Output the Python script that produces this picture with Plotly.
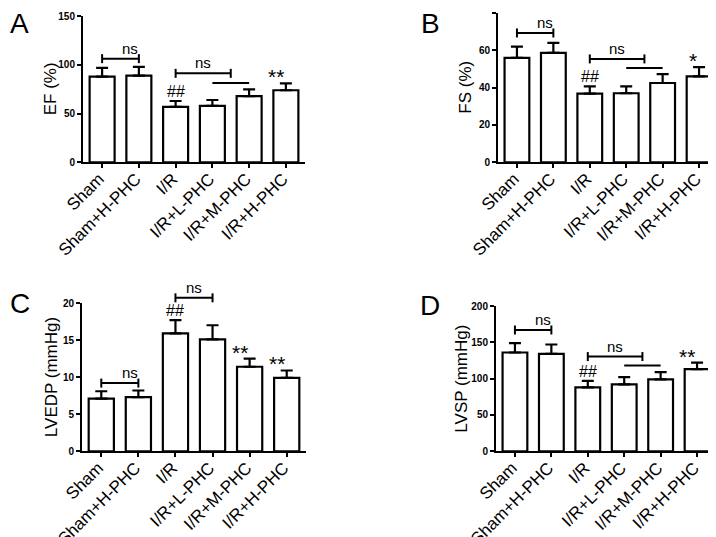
import plotly.graph_objects as go

categories = ["Sham", "Sham+H-PHC", "I/R", "I/R+L-PHC", "I/R+M-PHC", "I/R+H-PHC"]

ef_mean = [88, 89, 57, 58, 68, 74]
ef_err = [9, 9, 6, 6, 7, 7]
fs_mean = [56, 58.6, 36.8, 37, 42.5, 46]
fs_err = [6, 5.4, 3.9, 3.7, 4.8, 5]
lvedp_mean = [7.1, 7.3, 15.9, 15.1, 11.4, 9.9]
lvedp_err = [1.0, 0.9, 1.8, 1.9, 1.1, 1.0]
lvsp_mean = [136, 134, 88, 92, 99, 113]
lvsp_err = [13, 13, 9, 10, 10, 9]

ef_ticks = [0, 50, 100, 150]
fs_ticks = [0, 20, 40, 60, 80]
lvedp_ticks = [0, 5, 10, 15, 20]
lvsp_ticks = [0, 50, 100, 150, 200]

# significance brackets: (from group, to group, level, end ticks, label)
ef_brackets = [(0, 1, 106.5, True, "ns"), (2, 3.5, 91.4, True, "ns"), (3, 4, 81.5, False, "")]
fs_brackets = [(0, 1, 69.3, True, "ns"), (2, 3.5, 55.4, True, "ns"), (3, 4, 50.5, False, "")]
lvedp_brackets = [(0, 1, 9.2, True, "ns"), (2, 3, 20.7, True, "ns")]
lvsp_brackets = [(0, 1, 167, True, "ns"), (2, 3.5, 130.4, True, "ns"), (3, 4, 118, False, "")]

ef_marks = {2: "##", 5: "**"}
fs_marks = {2: "##", 5: "*"}
lvedp_marks = {2: "##", 4: "**", 5: "**"}
lvsp_marks = {2: "##", 5: "**"}

W, H = 716, 537
FONT = "Arial, Liberation Sans, sans-serif"
XR = [-0.52, 5.52]

panels = [
    dict(letter="A", title="EF (%)", mean=ef_mean, err=ef_err, ticks=ef_ticks,
         brackets=ef_brackets, marks=ef_marks, xpx=(75, 297), ypx=(154.3, 8.3),
         title_x=42, letter_xy=(11, 15)),
    dict(letter="B", title="FS (%)", mean=fs_mean, err=fs_err, ticks=fs_ticks,
         brackets=fs_brackets, marks=fs_marks, xpx=(490, 710), ypx=(154.3, 5),
         title_x=458, letter_xy=(422, 15)),
    dict(letter="C", title="LVEDP (mmHg)", mean=lvedp_mean, err=lvedp_err, ticks=lvedp_ticks,
         brackets=lvedp_brackets, marks=lvedp_marks, xpx=(74, 298), ypx=(443.3, 295),
         title_x=43, letter_xy=(12, 295)),
    dict(letter="D", title="LVSP (mmHg)", mean=lvsp_mean, err=lvsp_err, ticks=lvsp_ticks,
         brackets=lvsp_brackets, marks=lvsp_marks, xpx=(488, 708), ypx=(443.3, 298),
         title_x=454, letter_xy=(422, 297)),
]

fig = go.Figure()
shapes = []
annotations = []

for i, p in enumerate(panels, start=1):
    sfx = "" if i == 1 else str(i)
    xa, ya = "x" + sfx, "y" + sfx
    ymax = p["ticks"][-1]
    x0d, x1d = p["xpx"][0] / W, p["xpx"][1] / W
    y0d, y1d = 1 - p["ypx"][0] / H, 1 - p["ypx"][1] / H
    dom_h_px = p["ypx"][0] - p["ypx"][1]

    fig.add_trace(go.Bar(
        x=list(range(len(categories))), y=p["mean"], width=0.68,
        marker=dict(color="white", line=dict(color="black", width=2.2)),
        error_y=dict(type="data", array=p["err"], arrayminus=[0] * len(p["err"]),
                     symmetric=False, color="black", thickness=2.2, width=6),
        xaxis=xa, yaxis=ya, showlegend=False, hoverinfo="skip",
    ))

    fig.layout["xaxis" + sfx] = dict(
        domain=[x0d, x1d], anchor=ya, range=XR, automargin=False,
        tickvals=list(range(len(categories))), ticktext=categories,
        tickangle=-45, tickfont=dict(family=FONT, size=17, color="black"),
        ticklabelstandoff=-6, ticklabelshift=-3,
        showline=True, linecolor="black", linewidth=2,
        ticks="outside", ticklen=4, tickwidth=1.5, tickcolor="black",
        showgrid=False, zeroline=False, fixedrange=True,
    )
    fig.layout["yaxis" + sfx] = dict(
        domain=[y0d, y1d], anchor=xa, range=[0, ymax], automargin=False,
        tickvals=p["ticks"], ticktext=[str(t) for t in p["ticks"]],
        tickfont=dict(family=FONT, size=10, color="black", weight="bold"),
        showline=True, linecolor="black", linewidth=2,
        ticks="outside", ticklen=4, tickwidth=1.5, tickcolor="black",
        showgrid=False, zeroline=False, fixedrange=True,
    )

    def fx(v):
        return (v - XR[0]) / (XR[1] - XR[0])

    def fy(v):
        return v / ymax

    half = 4.5 / dom_h_px
    for (g0, g1, lvl, endticks, label) in p["brackets"]:
        shapes.append(dict(type="line", xref=xa + " domain", yref=ya + " domain",
                           x0=fx(g0), x1=fx(g1), y0=fy(lvl), y1=fy(lvl),
                           line=dict(color="black", width=2)))
        if endticks:
            for g in (g0, g1):
                shapes.append(dict(type="line", xref=xa + " domain", yref=ya + " domain",
                                   x0=fx(g), x1=fx(g), y0=fy(lvl) - half, y1=fy(lvl) + half,
                                   line=dict(color="black", width=2)))
        if label:
            annotations.append(dict(x=fx((g0 + g1) / 2), y=fy(lvl),
                                    xref=xa + " domain", yref=ya + " domain", text=label,
                                    showarrow=False, yanchor="bottom", yshift=0,
                                    font=dict(family=FONT, size=15, color="black")))

    for g, txt in p["marks"].items():
        is_star = txt.startswith("*")
        annotations.append(dict(x=fx(g), y=fy(p["mean"][g] + p["err"][g]),
                                xref=xa + " domain", yref=ya + " domain", text=txt,
                                showarrow=False, yanchor="bottom",
                                yshift=-7 if is_star else -1,
                                font=dict(family=FONT, size=21 if is_star else 16,
                                          color="black")))

    annotations.append(dict(x=p["title_x"] / W, y=(y0d + y1d) / 2, xref="paper", yref="paper",
                            text=p["title"], textangle=-90, showarrow=False,
                            xanchor="center", yanchor="middle",
                            font=dict(family=FONT, size=17, color="black")))
    lx, ly = p["letter_xy"]
    annotations.append(dict(x=lx / W, y=1 - ly / H, xref="paper", yref="paper",
                            text=p["letter"], showarrow=False, xanchor="center", yanchor="middle",
                            font=dict(family=FONT, size=28, color="black")))

fig.update_layout(
    template="none",
    width=W, height=H, margin=dict(l=0, r=0, t=0, b=0, autoexpand=False),
    paper_bgcolor="white", plot_bgcolor="white",
    showlegend=False, bargap=0.3,
    shapes=shapes, annotations=annotations,
    font=dict(family=FONT, color="black"),
)

fig.write_html("out.html")
